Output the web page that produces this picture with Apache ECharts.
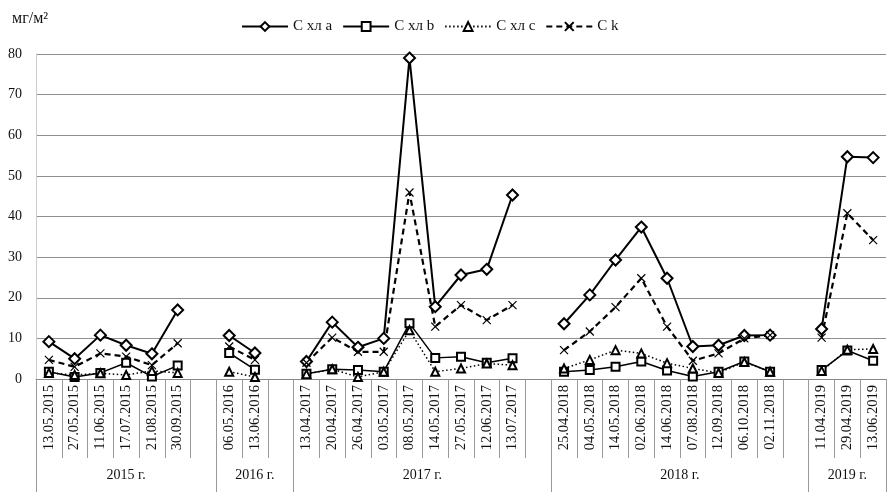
<!DOCTYPE html>
<html>
<head>
<meta charset="utf-8">
<script src="https://cdn.jsdelivr.net/npm/echarts@6/dist/echarts.min.js"></script>
<style>html,body{margin:0;padding:0;background:#fff}#c{width:889px;height:492px}</style>
</head>
<body>
<div id="c"></div>
<script>
const categories = [
  '13.05.2015','27.05.2015','11.06.2015','17.07.2015','21.08.2015','30.09.2015',' ',
  '06.05.2016','13.06.2016','  ',
  '13.04.2017','20.04.2017','26.04.2017','03.05.2017','08.05.2017','14.05.2017','27.05.2017','12.06.2017','13.07.2017','   ',
  '25.04.2018','04.05.2018','14.05.2018','02.06.2018','14.06.2018','07.08.2018','12.09.2018','06.10.2018','02.11.2018','    ',
  '11.04.2019','29.04.2019','13.06.2019'
];
const yearLabels = ['2015 г.','2016 г.','2017 г.','2018 г.','2019 г.'];
const yearSlots = [7, 3, 10, 10, 3];
const chlA = [9.2,5.0,10.8,8.3,6.2,17.0,null, 10.7,6.4,null,
  4.3,14.0,7.8,10.0,79.0,17.8,25.6,27.0,45.3,null,
  13.6,20.7,29.3,37.4,24.8,8.0,8.3,10.7,10.8,null,
  12.3,54.7,54.5];
const chlB = [1.8,0.5,1.5,4.0,0.6,3.3,null, 6.4,2.3,null,
  1.3,2.4,2.2,1.8,13.7,5.2,5.5,4.0,5.1,null,
  1.8,2.2,3.0,4.3,2.1,0.6,1.8,4.3,1.8,null,
  2.2,7.0,4.5];
const chlC = [1.5,1.0,1.4,1.0,2.0,1.5,null, 1.8,0.5,null,
  1.2,2.4,0.5,1.8,12.0,1.8,2.6,3.8,3.4,null,
  2.6,4.7,7.1,6.3,3.9,2.6,1.5,4.2,1.8,null,
  2.0,7.2,7.4];
const ck = [4.7,3.0,6.3,5.5,3.4,8.8,null, 8.0,4.7,null,
  4.0,10.2,6.7,6.7,45.9,12.9,18.2,14.5,18.2,null,
  7.1,11.7,17.7,24.8,12.9,4.5,6.3,10.0,10.8,null,
  10.2,40.8,34.2];
const yTicks = {min: 0, max: 80, interval: 10};

// derived group boundaries / centers
const bounds = [];
const centers = {};
let acc = 0;
yearSlots.forEach((n, i) => { bounds.push(acc); centers[(acc + n / 2).toFixed(1)] = yearLabels[i]; acc += n; });

const serif = 'Liberation Serif';
const chart = echarts.init(document.getElementById('c'));
chart.setOption({
  animation: false,
  backgroundColor: '#fff',
  title: {text: 'мг/м²', left: 7, top: 6, textStyle: {fontFamily: serif, fontSize: 16, fontWeight: 'normal', color: '#111'}},
  legend: {
    left: 236, top: 14, itemWidth: 46, itemHeight: 11, itemGap: 10,
    textStyle: {fontFamily: serif, fontSize: 15, color: '#111'},
    data: ['C хл a', 'C хл b', 'C хл c', 'C k']
  },
  grid: {left: 36, right: 1, top: 54, bottom: 113},
  xAxis: [
    {
      type: 'category', data: categories, boundaryGap: true,
      axisLine: {lineStyle: {color: '#888'}},
      axisTick: {show: true, interval: 0, length: 79, lineStyle: {color: '#999'}},
      axisLabel: {interval: 0, rotate: 90, margin: 6, fontFamily: serif, fontSize: 14.5, color: '#111'},
      splitLine: {show: false}
    },
    {
      type: 'category', data: categories, boundaryGap: true, position: 'bottom',
      axisLine: {show: false},
      axisTick: {show: true, interval: (idx) => bounds.includes(idx), length: 113, lineStyle: {color: '#999'}},
      axisLabel: {show: false},
      splitLine: {show: false}
    },
    {
      type: 'value', min: 0, max: acc, interval: 0.5, position: 'bottom',
      axisLine: {show: false}, axisTick: {show: false}, splitLine: {show: false},
      axisLabel: {margin: 89, fontFamily: serif, fontSize: 14, color: '#111',
        formatter: (v) => centers[v.toFixed(1)] || ''}
    }
  ],
  yAxis: {
    type: 'value', min: yTicks.min, max: yTicks.max, interval: yTicks.interval,
    axisLine: {show: true, lineStyle: {color: '#ccc'}},
    axisTick: {show: false},
    axisLabel: {margin: 14, fontFamily: serif, fontSize: 14, color: '#111'},
    splitLine: {lineStyle: {color: '#8f8f8f', width: 1}}
  },
  series: [
    {name: 'C хл a', type: 'line', data: chlA, symbol: 'emptyDiamond', symbolSize: 11,
      lineStyle: {color: '#000', width: 2}, itemStyle: {color: '#000', borderWidth: 1.3}},
    {name: 'C хл b', type: 'line', data: chlB, symbol: 'emptyRect', symbolSize: 8,
      lineStyle: {color: '#000', width: 1.5}, itemStyle: {color: '#000', borderWidth: 1.3}},
    {name: 'C хл c', type: 'line', data: chlC, symbol: 'emptyTriangle', symbolSize: 8,
      lineStyle: {color: '#000', width: 1.5, type: [1.5, 2.5]}, itemStyle: {color: '#000', borderWidth: 1.2}},
    {name: 'C k', type: 'line', data: ck, symbol: 'path://M0,0L10,10M10,0L0,10', symbolSize: 8,
      lineStyle: {color: '#000', width: 2.2, type: [6, 4]}, itemStyle: {color: '#000', borderColor: '#000', borderWidth: 1.2}}
  ]
});
</script>
</body>
</html>
